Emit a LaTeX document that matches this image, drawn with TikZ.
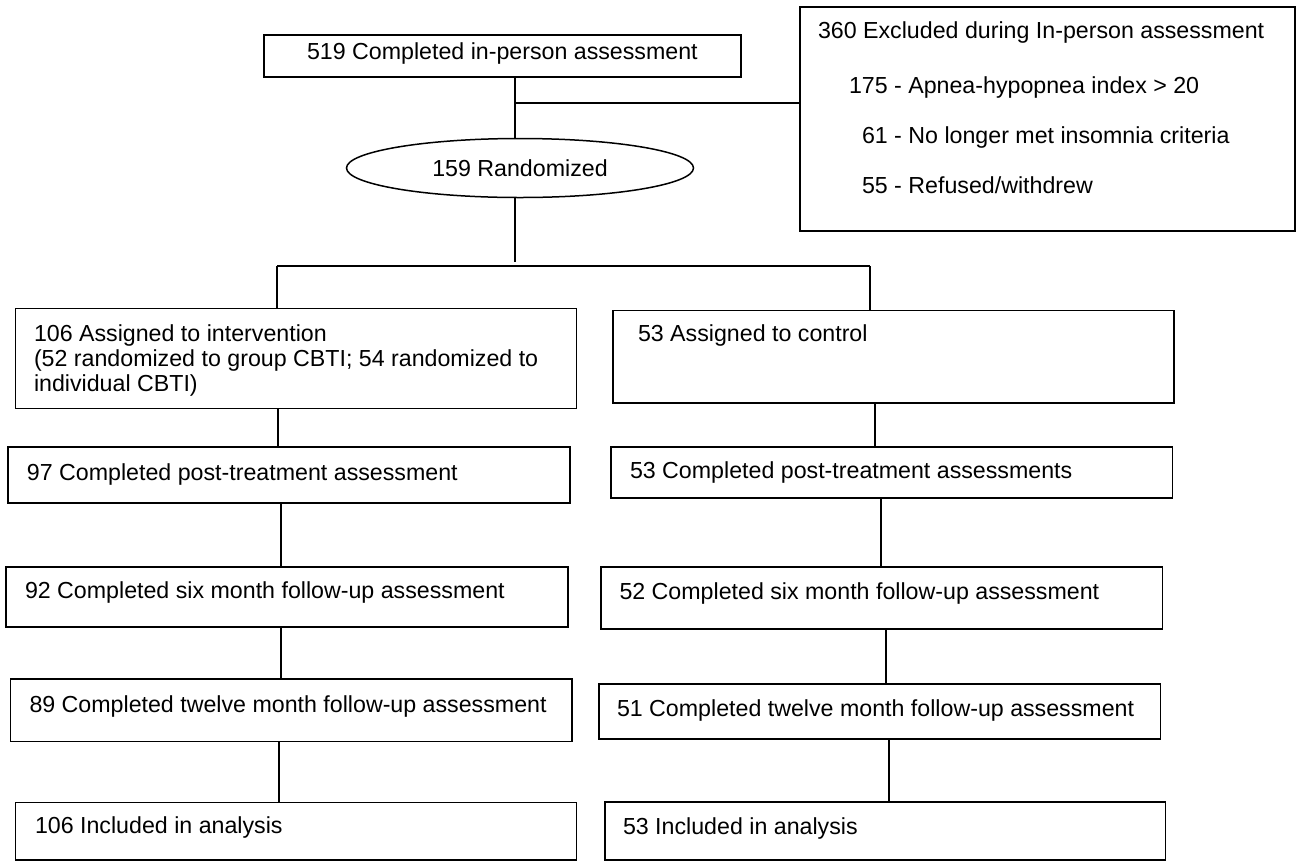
\documentclass[tikz,border=0pt]{standalone}
\usepackage{fontspec}
\setmainfont{Liberation Sans}
\usetikzlibrary{shapes.geometric}
\tikzset{
  every node/.style={font=\fontsize{23.2}{26}\selectfont},
  box/.style={draw, line width=1.5pt, rectangle, inner sep=0pt, outer sep=0pt, anchor=north west},
  txt/.style={anchor=base west, inner sep=0pt, outer sep=0pt},
  conn/.style={line width=1.5pt}
}
\newcommand\mybox[5]{\node[box, minimum width={#4-#2}, minimum height={#5-#3}] (#1) at (#2,#3) {};}
\begin{document}
\begin{tikzpicture}[x=1pt,y=-1pt]
\useasboundingbox (0,0) rectangle (1316,863);
% boxes
\mybox{A}{264}{35}{741}{77}
\mybox{X}{800}{7}{1295}{231}
\node[draw, ellipse, line width=1.5pt, minimum width=347, minimum height=59, inner sep=0pt, outer sep=0pt] (R) at (520,168) {159 Randomized};
\mybox{I}{15.7}{308.5}{576.7}{408.3}
\mybox{C}{613}{310.5}{1174}{403}
\mybox{PL}{8}{447}{570}{503}
\mybox{PR}{611}{447}{1172.5}{498}
\mybox{SL}{6}{567}{568}{627}
\mybox{SR}{601}{567}{1162.5}{629}
\mybox{TL}{10.5}{679}{572}{741.5}
\mybox{TR}{599}{684}{1160.6}{739}
\mybox{NL}{15.6}{802.5}{576.6}{860}
\mybox{NR}{605}{802}{1165.5}{860}
% texts
\node[txt] (tA) at (307,59) {519 Completed in-person assessment};
\node[txt] (tX1) at (818,38) {360 Excluded during In-person assessment};
\node[txt] (tX2) at (849,93) {175 - Apnea-hypopnea index > 20};
\node[txt] (tX3) at (862,143) {61 - No longer met insomnia criteria};
\node[txt] (tX4) at (862,193) {55 - Refused/withdrew};
\node[txt] (tI1) at (34,341) {106 Assigned to intervention};
\node[txt] (tI2) at (34,366.5) {(52 randomized to group CBTI; 54 randomized to};
\node[txt] (tI3) at (34,391.5) {individual CBTI)};
\node[txt] (tC) at (638,341.5) {53 Assigned to control};
\node[txt] (tPL) at (27,480) {97 Completed post-treatment assessment};
\node[txt] (tPR) at (630,478) {53 Completed post-treatment assessments};
\node[txt] (tSL) at (25,598) {92 Completed six month follow-up assessment};
\node[txt] (tSR) at (619.5,599) {52 Completed six month follow-up assessment};
\node[txt] (tTL) at (29.5,712) {89 Completed twelve month follow-up assessment};
\node[txt] (tTR) at (617,716) {51 Completed twelve month follow-up assessment};
\node[txt] (tNL) at (35,833) {106 Included in analysis};
\node[txt] (tNR) at (623,834) {53 Included in analysis};
% connector points
\coordinate (j1) at (515,103);
\coordinate (sM) at (515,262);
\coordinate (sL) at (277,266);
\coordinate (sR) at (870,266);
% connectors
\draw[conn] (515,0 |- A.south) -- (515,0 |- R.north);
\draw[conn] (j1) -- (j1 -| X.west);
\draw[conn] (515,0 |- R.south) -- (sM);
\draw[conn] (sL) -- (sR);
\draw[conn] (sL) -- (sL |- I.north);
\draw[conn] (sR) -- (sR |- C.north);
\draw[conn] (278,0 |- I.south) -- (278,0 |- PL.north);
\draw[conn] (281,0 |- PL.south) -- (281,0 |- SL.north);
\draw[conn] (281,0 |- SL.south) -- (281,0 |- TL.north);
\draw[conn] (279,0 |- TL.south) -- (279,0 |- NL.north);
\draw[conn] (875,0 |- C.south) -- (875,0 |- PR.north);
\draw[conn] (881,0 |- PR.south) -- (881,0 |- SR.north);
\draw[conn] (886,0 |- SR.south) -- (886,0 |- TR.north);
\draw[conn] (889,0 |- TR.south) -- (889,0 |- NR.north);
\end{tikzpicture}
\end{document}
